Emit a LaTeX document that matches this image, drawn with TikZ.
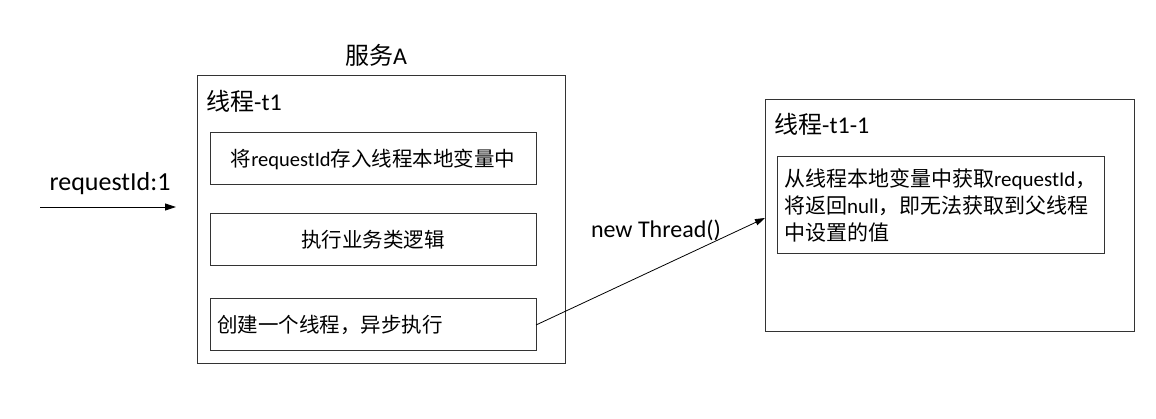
\documentclass[tikz,border=0pt]{standalone}
\usepackage{fontspec}
\setmainfont{Carlito}
\newfontfamily\cjk{Noto Sans CJK SC}
\usetikzlibrary{arrows.meta}
\begin{document}
\begin{tikzpicture}[x=1pt,y=-1pt,
  frame/.style={draw=black!80, line width=1pt, inner sep=0pt, outer sep=0pt, anchor=north west},
  innerbox/.style={frame, minimum width=326pt, minimum height=52pt, font=\fontsize{20.5}{27}\selectfont},
  titletext/.style={inner sep=0pt, font=\fontsize{24}{28}\selectfont},
  conn/.style={line width=0.9pt, -{Triangle[length=11pt,width=7pt]}}]
\useasboundingbox (0,0) rectangle (1156,419);
% service A
\node[frame, minimum width=368pt, minimum height=287pt] (A) at (197,76) {};
\node[titletext] (Atitle) at (376,55) {{\cjk 服务}A};
\node[titletext, anchor=west] (t1) at (206,101) {{\cjk 线程}-t1};
\node[innerbox] (b1) at (210,133) {{\cjk 将}requestId{\cjk 存入线程本地变量中}};
\node[innerbox] (b2) at (210,214) {\cjk 执行业务类逻辑};
\node[innerbox, align=left, text width=312pt, inner xsep=7pt] (b3) at (210,299) {\cjk 创建一个线程，异步执行};
% thread t1-1
\node[frame, minimum width=369pt, minimum height=232pt] (B) at (765,100) {};
\node[titletext, anchor=west] (t11) at (774,124) {{\cjk 线程}-t1-1};
\node[frame, minimum width=327pt, minimum height=97pt, align=left, text width=313pt, inner xsep=7pt, font=\fontsize{21}{27}\selectfont] (bi) at (777,157)
  {{\cjk 从线程本地变量中获取}requestId{\cjk ，}\\{\cjk 将返回}null{\cjk ，即无法获取到父线程}\\{\cjk 中设置的值}};
% incoming request
\node[titletext, font=\fontsize{26}{30}\selectfont] (req) at (110,184) {requestId:1};
\coordinate (in0) at (40,207);
\coordinate (in1) at (176,207);
\draw[conn] (in0) -- (in1);
% new thread
\node[titletext] (nt) at (656,230) {new Thread()};
\coordinate (tip) at (765,218);
\draw[line width=0.8pt, -{Triangle[length=10pt,width=6.5pt]}] (b3.east) -- (tip);
\end{tikzpicture}
\end{document}
